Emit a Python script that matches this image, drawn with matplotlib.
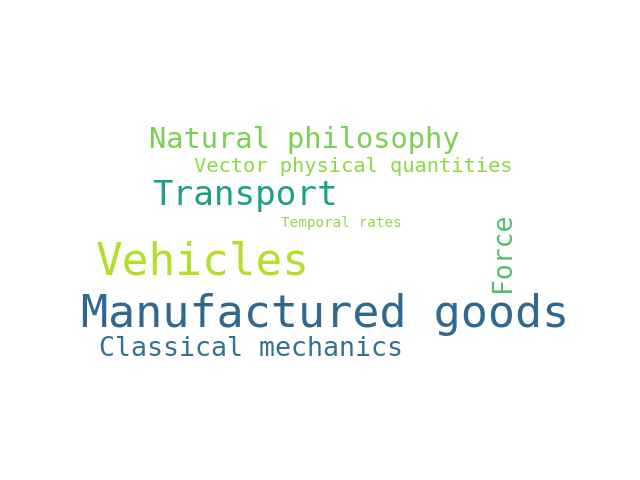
import matplotlib
matplotlib.use("Agg")
import matplotlib.pyplot as plt

# word cloud terms, relative weights (font size in pt) and colours
words = ["Manufactured goods", "Vehicles", "Transport", "Natural philosophy",
         "Classical mechanics", "Force", "Vector physical quantities", "Temporal rates"]
sizes = [32.5, 32, 24.7, 20.7, 19.2, 19, 14.7, 10.3]
colors = ["#31688e", "#b5de2b", "#1f9e89", "#7ad151",
          "#33718e", "#4ac16d", "#8fd744", "#95d840"]
rotations = [0, 0, 0, 0, 0, 90, 0, 0]
# layout (pixel centres in the 640x480 canvas)
xs = [325, 203, 245, 304, 251, 503, 353, 341]
ys = [315, 262, 195, 140, 349, 252, 166, 223]

fig = plt.figure(figsize=(6.4, 4.8), dpi=100)
ax = fig.add_axes([0, 0, 1, 1])
ax.set_xlim(0, 640)
ax.set_ylim(480, 0)
ax.axis("off")

for w, s, c, r, x, y in zip(words, sizes, colors, rotations, xs, ys):
    ax.text(x, y, w, fontsize=s, color=c, rotation=r, family="DejaVu Sans Mono",
            ha="center", va="center")

fig.savefig("out.png", dpi=100, facecolor="white")
